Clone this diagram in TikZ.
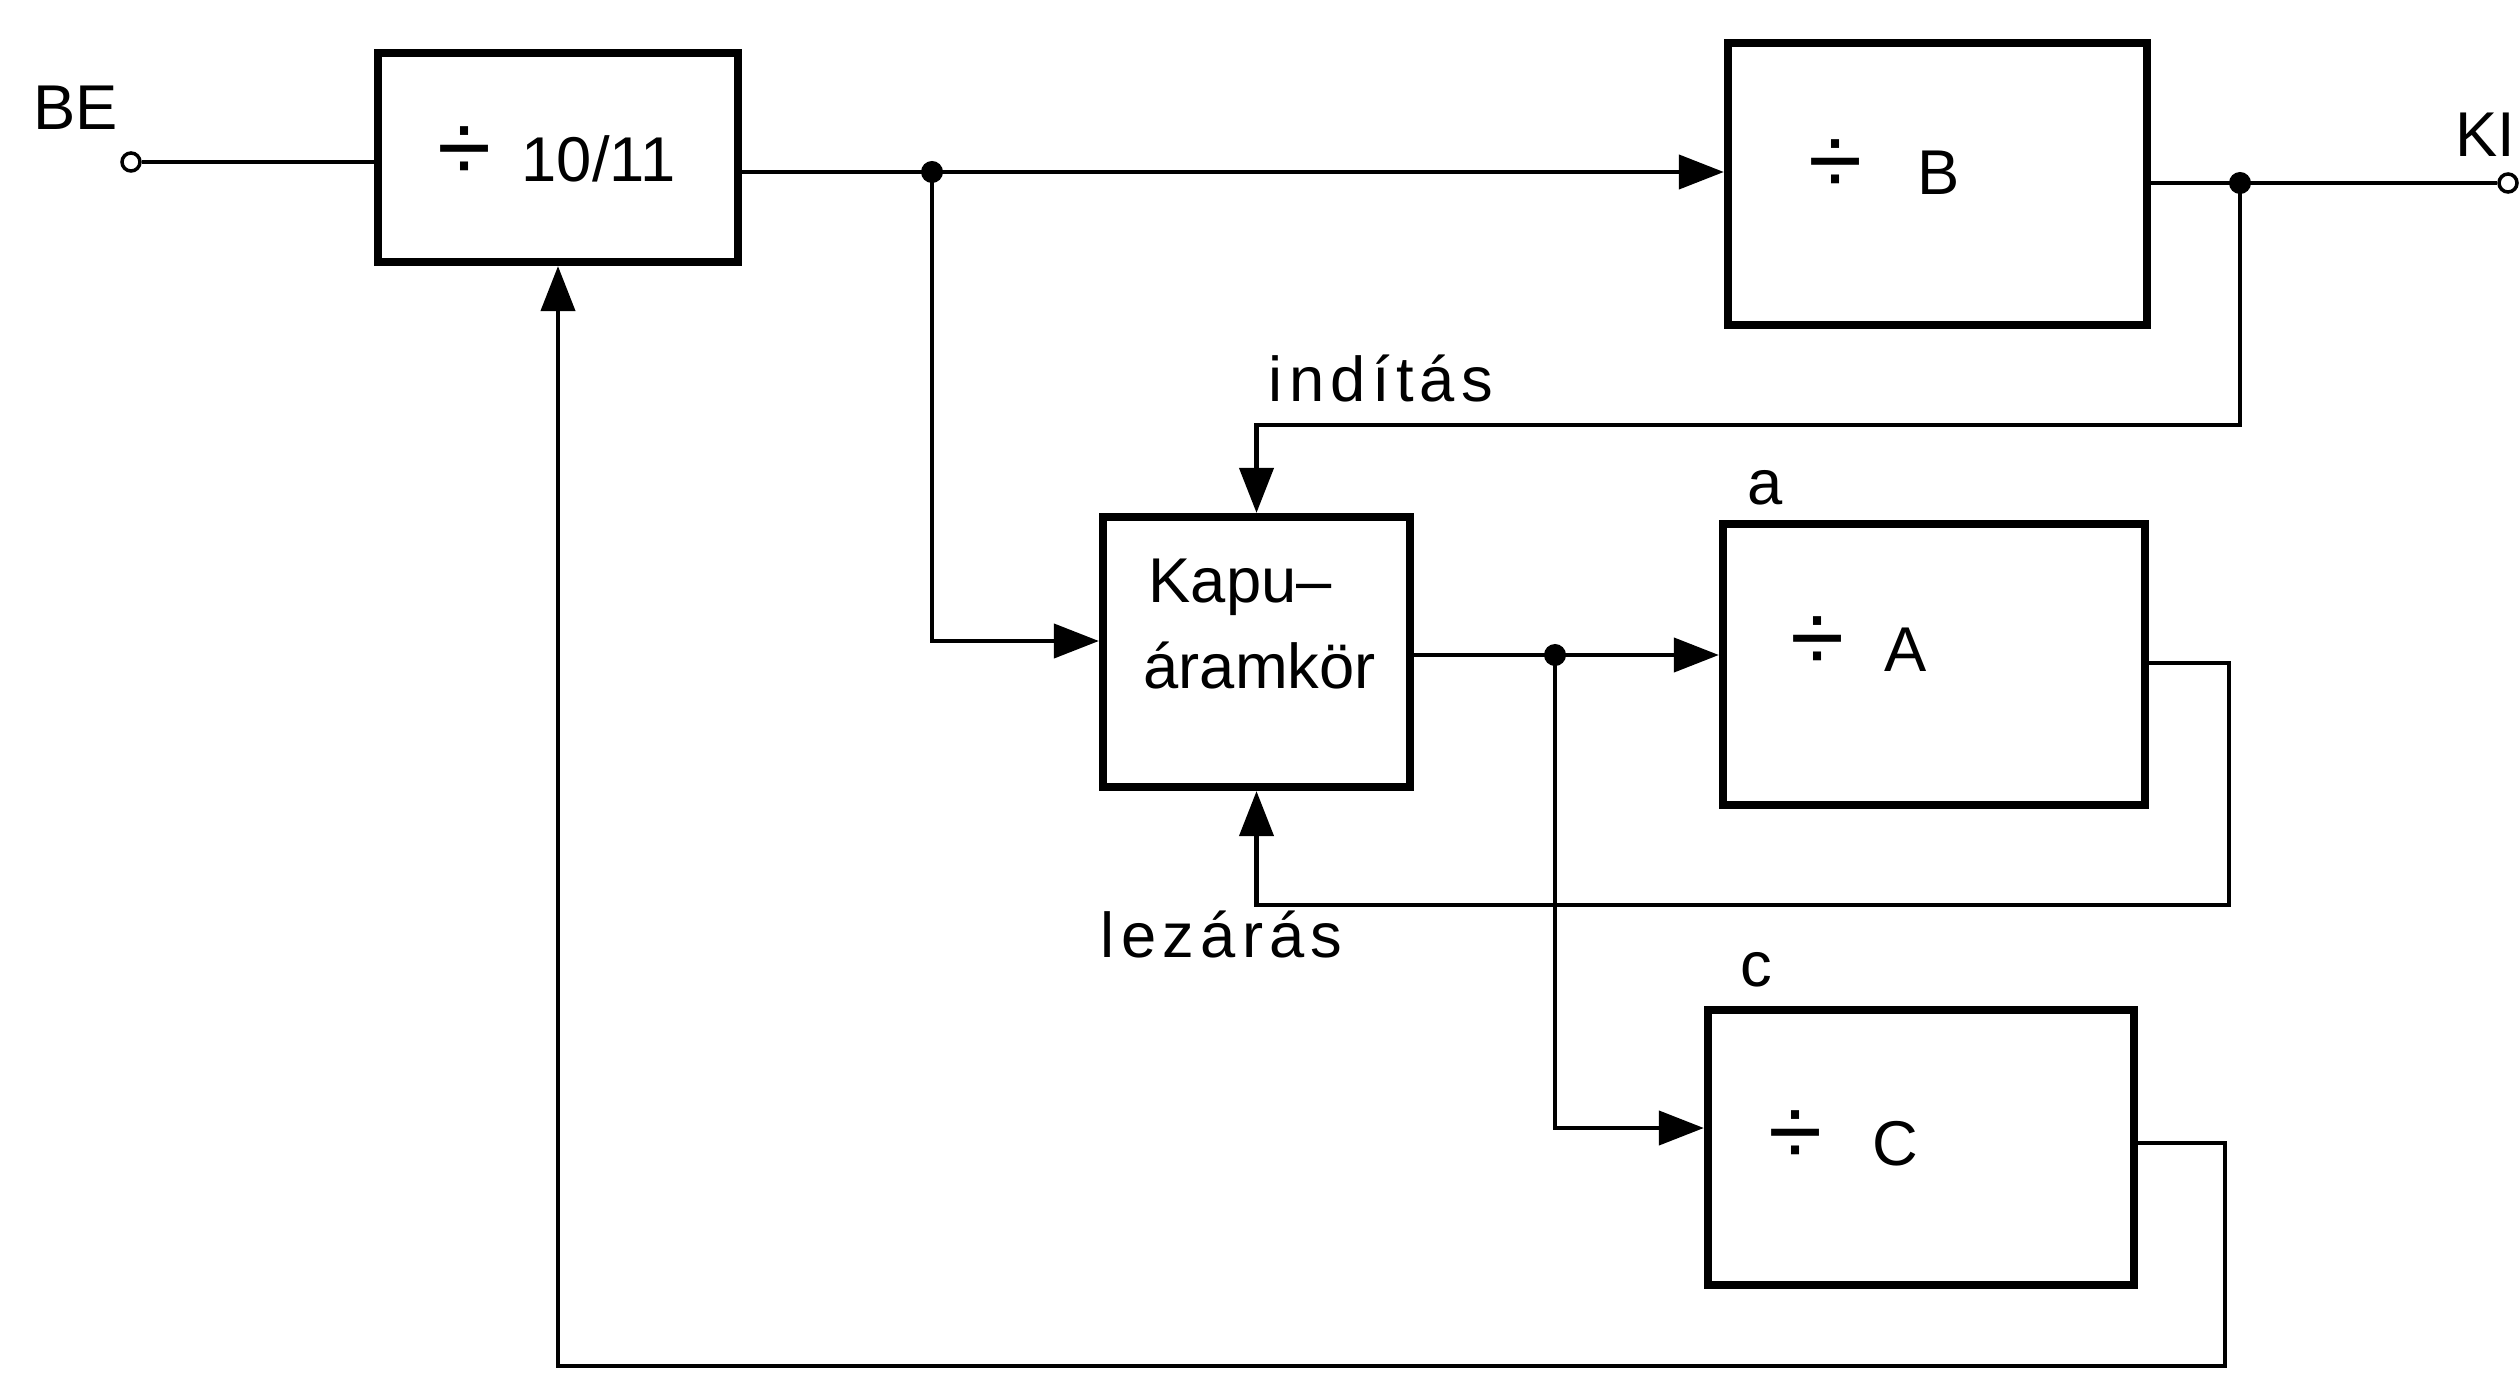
\documentclass[tikz,border=0pt]{standalone}
\usepackage{fontspec}
\setmainfont{Liberation Sans}
\newfontfamily\spacedfont[LetterSpace=10]{Liberation Sans}
\usetikzlibrary{arrows.meta}
\newcommand\lblsize{\fontsize{18}{22}\selectfont}
\newcommand\divsign{{\fontsize{28}{28}\selectfont ÷}}
\begin{document}
\begin{tikzpicture}[x=0.01cm,y=-0.01cm,
  box/.style={draw, line width=2.3pt, inner sep=0pt},
  conn/.style={line width=1.2pt},
  arr/.style={conn, -{Triangle[length=0.45cm,width=0.34cm]}},
  term/.style={circle, draw, line width=1pt, minimum size=0.18cm, inner sep=0pt},
  lbl/.style={font=\lblsize, inner sep=0pt}]
\fill[white] (0,0) rectangle (2520,1385);
\useasboundingbox (0,0) rectangle (2520,1385);

% boxes
\node[box, minimum width=3.60cm, minimum height=2.09cm] (D) at (558,157.5) {};
\node[box, minimum width=4.19cm, minimum height=2.82cm] (B) at (1937.5,184) {};
\node[box, minimum width=3.07cm, minimum height=2.70cm] (K) at (1256.5,652) {};
\node[box, minimum width=4.22cm, minimum height=2.81cm] (A) at (1934,664.5) {};
\node[box, minimum width=4.26cm, minimum height=2.75cm] (C) at (1921,1147.5) {};

% box texts
\node[lbl, anchor=base west] (tD) at (437,182) {\divsign\hspace{0.3cm}10/11};
\node[lbl, anchor=base west] (tB) at (1808,195) {\divsign\hspace{0.55cm}B};
\node[lbl, anchor=base west] (tA) at (1790,671) {\divsign\hspace{0.4cm}A};
\node[lbl, anchor=base west] (tC) at (1768,1165) {\divsign\hspace{0.5cm}C};
\node[lbl, anchor=base west] (tK1) at (1148,602) {Kapu–};
\node[lbl, anchor=base west] (tK2) at (1143,688) {áramkör};

% labels
\node[lbl, anchor=base west] (lBE) at (33,130) {BE};
\node[lbl, anchor=base west] (lKI) at (2455,157) {KI};
\node[lbl, anchor=base west] (lind) at (1268,401) {\spacedfont indítás};
\node[lbl, anchor=base west] (llez) at (1100,957) {\spacedfont lezárás};
\node[lbl, anchor=base] (la) at (1765,504) {a};
\node[lbl, anchor=base] (lc) at (1756,986) {c};

% terminals
\node[term] (be) at (131,162) {};
\node[term] (ki) at (2508,183) {};

% helper coordinates
\coordinate (j1) at (932,172);
\coordinate (j2) at (2240,183);
\coordinate (j3) at (1555,655);
\coordinate (yInd) at (0,425);
\coordinate (yKin) at (0,641);
\coordinate (yAout) at (0,663);
\coordinate (yLez) at (0,905);
\coordinate (xAl) at (2229,0);
\coordinate (yCin) at (0,1128);
\coordinate (yCout) at (0,1143);
\coordinate (xCl) at (2225,0);
\coordinate (yBot) at (0,1366);

% connectors
\draw[conn] (be) -- (D.west |- be);
\draw[arr] (D.east |- j1) -- (B.west |- j1);
\draw[conn] (B.east |- j2) -- (ki);
\draw[arr] (j2) -- (j2 |- yInd) -- (K.north |- yInd) -- (K.north);
\draw[arr] (j1) -- (j1 |- yKin) -- (K.west |- yKin);
\draw[arr] (K.east |- j3) -- (A.west |- j3);
\draw[arr] (A.east |- yAout) -- (xAl |- yAout) -- (xAl |- yLez) -- (K.south |- yLez) -- (K.south);
\draw[arr] (j3) -- (j3 |- yCin) -- (C.west |- yCin);
\draw[arr] (C.east |- yCout) -- (xCl |- yCout) -- (xCl |- yBot) -- (D.south |- yBot) -- (D.south);

% junction dots
\fill (j1) circle (0.11cm);
\fill (j2) circle (0.11cm);
\fill (j3) circle (0.11cm);
\end{tikzpicture}
\end{document}
